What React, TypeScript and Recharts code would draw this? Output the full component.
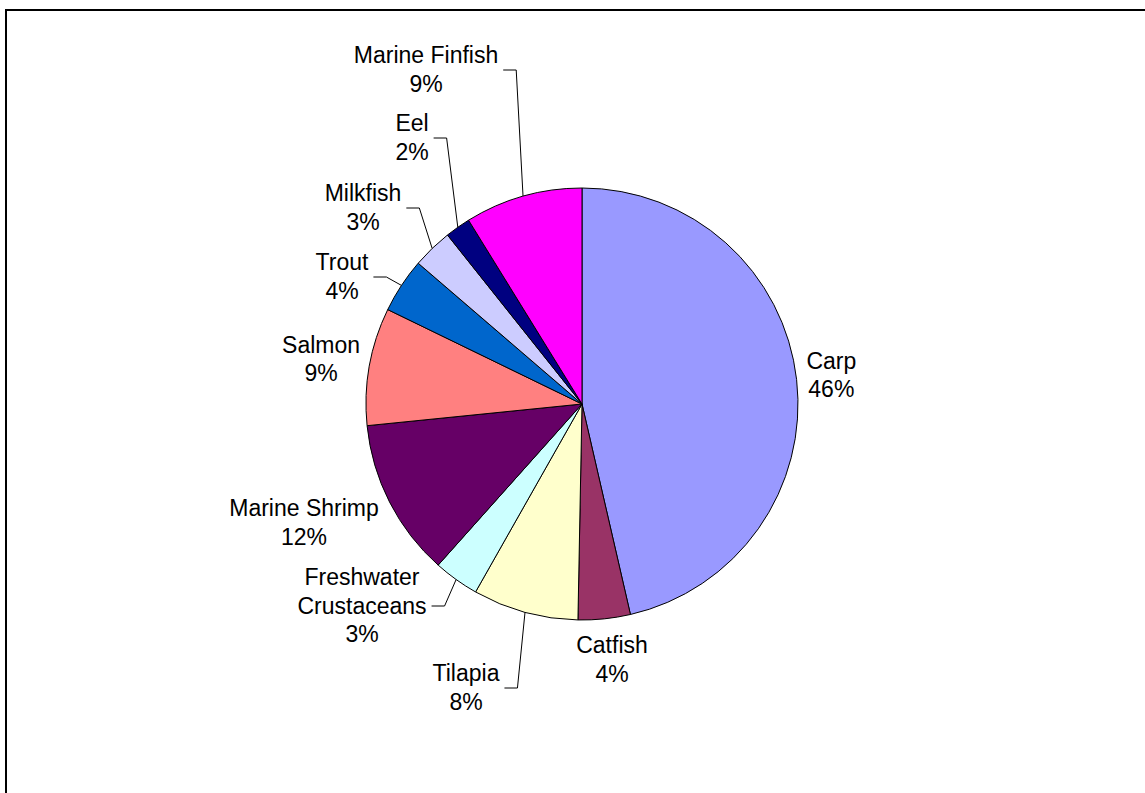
import React from 'react';
import { PieChart, Pie, Cell } from 'recharts';

// ---- data ----
const categories = [
  'Carp',
  'Catfish',
  'Tilapia',
  'Freshwater Crustaceans',
  'Marine Shrimp',
  'Salmon',
  'Trout',
  'Milkfish',
  'Eel',
  'Marine Finfish',
];
const shares = [46.4, 3.9, 7.9, 3.4, 11.8, 8.8, 4.1, 3.0, 1.9, 8.8];

// ---- styles ----
const sliceColors = [
  '#9999FF',
  '#993366',
  '#FFFFCC',
  '#CCFFFF',
  '#660066',
  '#FF8080',
  '#0066CC',
  '#CCCCFF',
  '#000080',
  '#FF00FF',
];

// ---- layout: label-box centre offsets (from the pie centre) for labels placed
// away from the computed outside-end spot; null = computed placement ----
const labelOffsets: ([number, number] | null)[] = [
  null,
  [30, 256],
  [-116, 284],
  [-220, 202],
  [-278, 119],
  null,
  [-240, -127],
  [-219, -196],
  [-170, -266],
  [-156, -334],
];
// which labels carry a leader line back to their slice
const hasLeader = [false, false, true, true, false, false, true, true, true, true];

const data = categories.map((name, i) => ({ name, value: shares[i] }));

const FONT_SIZE = 23;
const FONT_FAMILY = '"Liberation Sans", Arial, Helvetica, sans-serif';
const LINE_H = 28.4;
const ASCENT = 21;
const DESCENT = 6;
const GAP = 10;

let measureCtx: CanvasRenderingContext2D | null = null;
function measure(t: string): number {
  if (!measureCtx) {
    const c = document.createElement('canvas');
    measureCtx = c.getContext('2d');
  }
  if (!measureCtx) return t.length * FONT_SIZE * 0.55;
  measureCtx.font = `${FONT_SIZE}px "Liberation Sans"`;
  return measureCtx.measureText(t).width;
}

function wrap(name: string): string[] {
  if (measure(name) > 200 && name.indexOf(' ') > 0) {
    const i = name.indexOf(' ');
    return [name.slice(0, i), name.slice(i + 1)];
  }
  return [name];
}

const RAD = Math.PI / 180;

const renderLabel = (props: any) => {
  const { cx, cy, midAngle, outerRadius, percent, index } = props;
  const lines = [...wrap(categories[index]), `${Math.round(percent * 100)}%`];
  const maxW = Math.max(...lines.map(measure));
  const hw = maxW / 2;
  const height = (lines.length - 1) * LINE_H + ASCENT + DESCENT;
  const hh = height / 2;
  const ux = Math.cos(-midAngle * RAD);
  const uy = Math.sin(-midAngle * RAD);
  const edgeX = cx + outerRadius * ux;
  const edgeY = cy + outerRadius * uy;

  let bx: number;
  let by: number;
  const off = labelOffsets[index];
  if (off) {
    bx = cx + off[0];
    by = cy + off[1];
  } else {
    bx = cx + (outerRadius + GAP) * ux + hw * ux;
    by = cy + (outerRadius + GAP) * uy + hh * uy;
  }
  const firstBaseline = by - hh + ASCENT;

  let leader: React.ReactNode = null;
  if (hasLeader[index]) {
    const sx = bx + hw + 5;
    const ex = sx + 13;
    leader = (
      <polyline
        points={`${sx},${by} ${ex},${by} ${edgeX},${edgeY}`}
        fill="none"
        stroke="#000"
        strokeWidth={1}
      />
    );
  }

  return (
    <g key={`lbl-${index}`}>
      {leader}
      {lines.map((ln, i) => (
        <text
          key={i}
          x={bx}
          y={firstBaseline + i * LINE_H}
          textAnchor="middle"
          fill="#000"
          fontSize={FONT_SIZE}
          fontFamily={FONT_FAMILY}
        >
          {ln}
        </text>
      ))}
    </g>
  );
};

export default function App() {
  return (
    <div
      style={{
        position: 'absolute',
        left: 0,
        top: 0,
        width: 1145,
        height: 793,
        overflow: 'hidden',
        background: '#fff',
      }}
    >
      <div
        style={{
          position: 'absolute',
          left: 5,
          top: 9,
          width: 2000,
          height: 2000,
          borderLeft: '2px solid #000',
          borderTop: '2px solid #000',
          boxSizing: 'border-box',
        }}
      />
      <div style={{ position: 'absolute', left: 0, top: 0 }}>
        <PieChart width={1145} height={793} margin={{ top: 0, right: 0, bottom: 0, left: 0 }}>
          <Pie
            data={data}
            dataKey="value"
            nameKey="name"
            cx={582}
            cy={404}
            outerRadius={216}
            startAngle={90}
            endAngle={-270}
            stroke="#000"
            strokeWidth={1}
            label={renderLabel}
            labelLine={false}
            isAnimationActive={false}
          >
            {data.map((d, i) => (
              <Cell key={d.name} fill={sliceColors[i]} />
            ))}
          </Pie>
        </PieChart>
      </div>
    </div>
  );
}
